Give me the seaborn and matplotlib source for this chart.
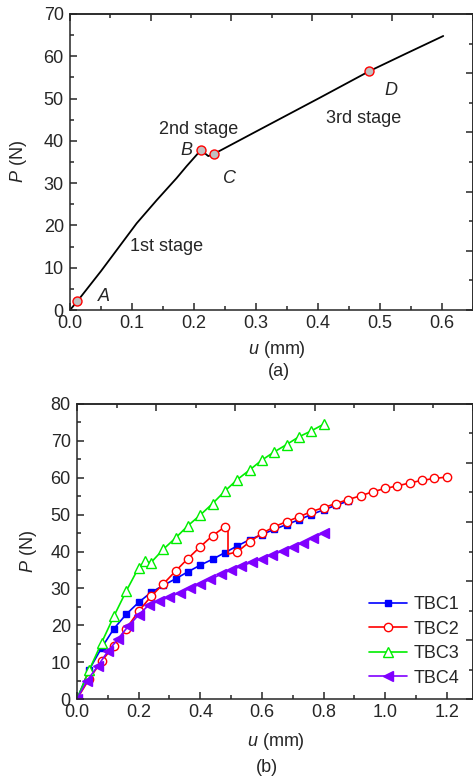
import numpy as np
import pandas as pd
import matplotlib
matplotlib.use('Agg')
import matplotlib.pyplot as plt
import seaborn as sns

# (a) load-displacement curve of one specimen
u_a = [0, 0.012, 0.05, 0.078, 0.1075, 0.14, 0.172, 0.188, 0.211, 0.218, 0.223, 0.232,
       0.30, 0.403, 0.483, 0.54, 0.602]
p_a = [0, 2.1, 9.2, 14.7, 20.5, 26.0, 31.2, 34.0, 37.8, 37.0, 36.4, 36.9,
       42.2, 50.2, 56.5, 60.5, 64.8]
pt_names = ['A', 'B', 'C', 'D']
pt_u = [0.012, 0.211, 0.232, 0.483]
pt_p = [2.1, 37.8, 36.9, 56.5]
stage_names = ['1st stage', '2nd stage', '3rd stage']

# (b) four specimens
u_tbc1 = [0, 0.04, 0.08, 0.12, 0.16, 0.20, 0.24, 0.28, 0.32, 0.36, 0.40, 0.44, 0.48,
          0.52, 0.56, 0.60, 0.64, 0.68, 0.72, 0.76, 0.80, 0.84, 0.88]
p_tbc1 = [0, 8.0, 13.9, 19.1, 23.0, 26.2, 28.9, 30.8, 32.6, 34.5, 36.3, 37.9, 39.7,
          41.5, 43.2, 44.6, 46.0, 47.3, 48.6, 50.0, 51.3, 52.5, 53.7]

u_tbc2 = [0, 0.04, 0.08, 0.12, 0.16, 0.20, 0.24, 0.28, 0.32, 0.36, 0.40, 0.44, 0.48,
          0.49, 0.49, 0.52, 0.56, 0.60, 0.64, 0.68, 0.72, 0.76, 0.80, 0.84, 0.88,
          0.92, 0.96, 1.00, 1.04, 1.08, 1.12, 1.16, 1.20]
p_tbc2 = [0, 5.5, 10.3, 14.4, 19.1, 23.8, 27.8, 31.2, 34.7, 38.1, 41.3, 44.3, 46.7,
          46.5, 39.3, 39.9, 42.6, 44.9, 46.7, 48.1, 49.4, 50.8, 51.9, 53.0, 54.1,
          55.1, 56.2, 57.1, 57.8, 58.6, 59.3, 59.8, 60.2]

u_tbc3 = [0, 0.04, 0.08, 0.12, 0.16, 0.20, 0.22, 0.24, 0.28, 0.32, 0.36, 0.40, 0.44,
          0.48, 0.52, 0.56, 0.60, 0.64, 0.68, 0.72, 0.76, 0.80]
p_tbc3 = [0, 7.9, 15.3, 22.5, 29.3, 35.6, 37.3, 37.0, 40.6, 43.7, 47.0, 49.9, 53.0,
          56.4, 59.5, 62.1, 64.8, 67.0, 69.0, 71.1, 72.7, 74.5]

u_tbc4 = [0, 0.033, 0.067, 0.100, 0.133, 0.167, 0.200, 0.233, 0.267, 0.300, 0.333,
          0.367, 0.400, 0.433, 0.467, 0.500, 0.533, 0.567, 0.600, 0.633, 0.667,
          0.700, 0.733, 0.767, 0.800]
p_tbc4 = [0, 5.0, 8.9, 12.9, 16.3, 19.8, 22.8, 25.5, 26.6, 27.7, 28.8, 30.0, 31.2,
          32.5, 33.8, 35.0, 36.0, 37.1, 38.1, 39.1, 40.1, 41.2, 42.4, 43.7, 45.0]

sns.set_style('ticks')
plt.rcParams['font.family'] = ['Liberation Sans', 'DejaVu Sans']
plt.rcParams['mathtext.fontset'] = 'custom'
plt.rcParams['mathtext.it'] = 'Liberation Sans:italic'
plt.rcParams['mathtext.rm'] = 'Liberation Sans'
plt.rcParams.update({'font.size': 13, 'axes.linewidth': 1.1,
                     'xtick.direction': 'in', 'ytick.direction': 'in',
                     'xtick.major.size': 5, 'ytick.major.size': 5,
                     'xtick.minor.size': 3, 'ytick.minor.size': 3,
                     'xtick.major.width': 1.1, 'ytick.major.width': 1.1,
                     'xtick.minor.width': 1.1, 'ytick.minor.width': 1.1,
                     'xtick.labelsize': 13, 'ytick.labelsize': 13,
                     'xtick.major.pad': 3.5, 'ytick.major.pad': 4.5})

W, H = 473, 778
fig = plt.figure(figsize=(W / 100, H / 100), dpi=100)
ax1 = fig.add_axes([70 / W, 1 - 310 / H, 403 / W, 296 / H])
ax2 = fig.add_axes([77 / W, 1 - 699 / H, 396 / W, 295 / H])


def frame(ax, xmax, xmaj, ymax, ymaj):
    ax.set_xlim(0, xmax)
    ax.set_ylim(0, ymax)
    ax.set_xticks(np.arange(0, xmax + 1e-9, xmaj))
    ax.set_xticks(np.arange(0, xmax + 1e-9, xmaj / 2), minor=True)
    ax.set_yticks(np.arange(0, ymax + 1e-9, ymaj))
    ax.set_yticks(np.arange(0, ymax + 1e-9, ymaj / 2), minor=True)
    ax.set_xlabel('')
    ax.set_ylabel('$P$ (N)')
    # Origin-style opposite axes with their own 0-1 scale
    top = ax.secondary_xaxis('top', functions=(lambda x: x / xmax, lambda f: f * xmax))
    top.set_xticks(np.arange(0, 1.01, 0.2))
    top.set_xticks(np.arange(0, 1.01, 0.1), minor=True)
    top.tick_params(which='both', labeltop=False)
    right = ax.secondary_yaxis('right', functions=(lambda y: y / ymax, lambda f: f * ymax))
    right.set_yticks(np.arange(0, 1.01, 0.2))
    right.set_yticks(np.arange(0, 1.01, 0.1), minor=True)
    right.tick_params(which='both', labelright=False)


# ---- (a)
sns.lineplot(x=u_a, y=p_a, ax=ax1, color='black', lw=1.3, estimator=None, sort=False)
sns.scatterplot(x=pt_u, y=pt_p, ax=ax1, color='#C0C0C0', edgecolor='red',
                linewidth=1.0, s=42, zorder=5)
frame(ax1, 0.65, 0.1, 70, 10)
ax1.yaxis.set_label_coords(-0.102, 0.5)

lab_u = [0.055, 0.188, 0.257, 0.517]
lab_p = [3.3, 37.8, 31.0, 51.8]
for name, x, y in zip(pt_names, lab_u, lab_p):
    ax1.text(x, y, name, style='italic', ha='center', va='center', fontsize=13)
for name, x, y in zip(stage_names, [0.156, 0.208, 0.473], [15.1, 42.6, 45.3]):
    ax1.text(x, y, name, ha='center', va='center', fontsize=13)

fig.text(277 / W, 1 - 350 / H, '$u$ (mm)', ha='center', va='center', fontsize=13)
fig.text(279 / W, 1 - 371 / H, '(a)', ha='center', va='center', fontsize=13)

# ---- (b)
series = [
    ('TBC1', u_tbc1, p_tbc1, '#0000FF', 's', '#0000FF', 5.0, None),
    ('TBC2', u_tbc2, p_tbc2, '#FF0000', 'o', 'white', 6.0,
     [i for i in range(len(u_tbc2)) if i not in (13, 14)]),
    ('TBC3', u_tbc3, p_tbc3, '#00EE00', '^', 'white', 6.5, None),
    ('TBC4', u_tbc4, p_tbc4, '#8000FF', '<', '#8000FF', 6.5, None),
]
for name, u, p, col, mk, fc, ms, every in series:
    sns.lineplot(x=u, y=p, ax=ax2, color=col, lw=1.2, marker=mk, markersize=ms,
                 markerfacecolor=fc, markeredgecolor=col, markeredgewidth=1.0,
                 markevery=every, estimator=None, sort=False, label=name)
frame(ax2, 1.285, 0.2, 80, 10)
ax2.yaxis.set_label_coords(-0.096, 0.5)
ax2.legend(loc='upper left', bbox_to_anchor=(369 / W, 1 - 596 / H),
           bbox_transform=fig.transFigure, frameon=False, borderpad=0,
           borderaxespad=0, handlelength=2.1, handletextpad=0.35,
           labelspacing=0.42, numpoints=1, fontsize=13)

fig.text(276 / W, 1 - 742 / H, '$u$ (mm)', ha='center', va='center', fontsize=13)
fig.text(267 / W, 1 - 767 / H, '(b)', ha='center', va='center', fontsize=13)

fig.savefig('out.png', dpi=100)
